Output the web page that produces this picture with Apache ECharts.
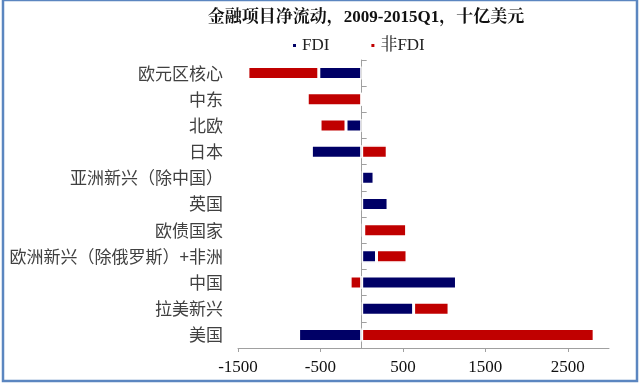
<!DOCTYPE html>
<html><head><meta charset="utf-8">
<script src="https://cdn.jsdelivr.net/npm/echarts@6/dist/echarts.min.js"></script>
<style>html,body{margin:0;padding:0;background:#fff}#c{width:640px;height:387px}</style>
</head><body><div id="c"></div>
<script>
const categories = ['欧元区核心','中东','北欧','日本','亚洲新兴（除中国）','英国','欧债国家','欧洲新兴（除俄罗斯）+非洲','中国','拉美新兴','美国'];
const fdi = [-520, 0, -190, -610, 150, 320, 25, 180, 1150, 630, -765];
const nonFdi = [-860, -660, -315, 310, 0, 0, 520, 370, -140, 430, 2820];
const xTicks = [-1500, -500, 500, 1500, 2500];

const serif = "'Liberation Serif','Noto Serif CJK SC','Noto Sans CJK SC',serif";
const sans = "'Noto Sans CJK SC','Liberation Sans',sans-serif";
const chart = echarts.init(document.getElementById('c'));
const catRev = categories.slice().reverse();
chart.setOption({
  animation: false,
  backgroundColor: '#fff',
  title: {
    text: '金融项目净流动，2009-2015Q1，十亿美元',
    left: 361, top: 4, textAlign: 'center',
    textStyle: {fontFamily: serif, fontSize: 17, fontWeight: 'bold', color: '#111'}
  },
  legend: {
    data: ['FDI', '非FDI'], left: 286, top: 32, itemWidth: 5, itemHeight: 5, itemGap: 40,
    icon: 'rect',
    textStyle: {fontFamily: serif, fontSize: 17, color: '#222'}
  },
  grid: {left: 238, right: 31, top: 60, bottom: 39},
  xAxis: {
    type: 'value', min: -1500, max: 3000, interval: 1000,
    splitLine: {show: false},
    axisLine: {show: true, lineStyle: {color: '#a0a0a0'}},
    axisTick: {show: true, length: 4, lineStyle: {color: '#a0a0a0'}},
    axisLabel: {
      showMaxLabel: false, margin: 11,
      formatter: v => xTicks.indexOf(v) >= 0 ? String(v) : '',
      fontFamily: serif, fontSize: 17, color: '#111'
    }
  },
  yAxis: [{
    type: 'category', data: catRev,
    axisLine: {show: false, onZero: false},
    axisTick: {show: false},
    axisLabel: {fontFamily: sans, fontSize: 17, color: '#404040', margin: 15}
  }, {
    type: 'category', data: catRev, position: 'left',
    axisLine: {show: true, onZero: true, lineStyle: {color: '#a0a0a0'}},
    axisTick: {show: true, inside: true, length: 5, lineStyle: {color: '#a0a0a0'}},
    axisLabel: {show: false}
  }],
  series: [{
    name: 'FDI', type: 'bar', stack: 's', data: fdi.slice().reverse(), barWidth: 13,
    itemStyle: {color: '#000066', borderColor: '#fff', borderWidth: 1.5}
  }, {
    name: '非FDI', type: 'bar', stack: 's', data: nonFdi.slice().reverse(), barWidth: 13,
    itemStyle: {color: '#c00000', borderColor: '#fff', borderWidth: 1.5}
  }],
  graphic: [{
    type: 'rect', silent: true, z: 100,
    shape: {x: 3, y: 0, width: 634, height: 381},
    style: {fill: 'none', stroke: '#5b86c0', lineWidth: 2.5}
  }]
});
</script></body></html>
